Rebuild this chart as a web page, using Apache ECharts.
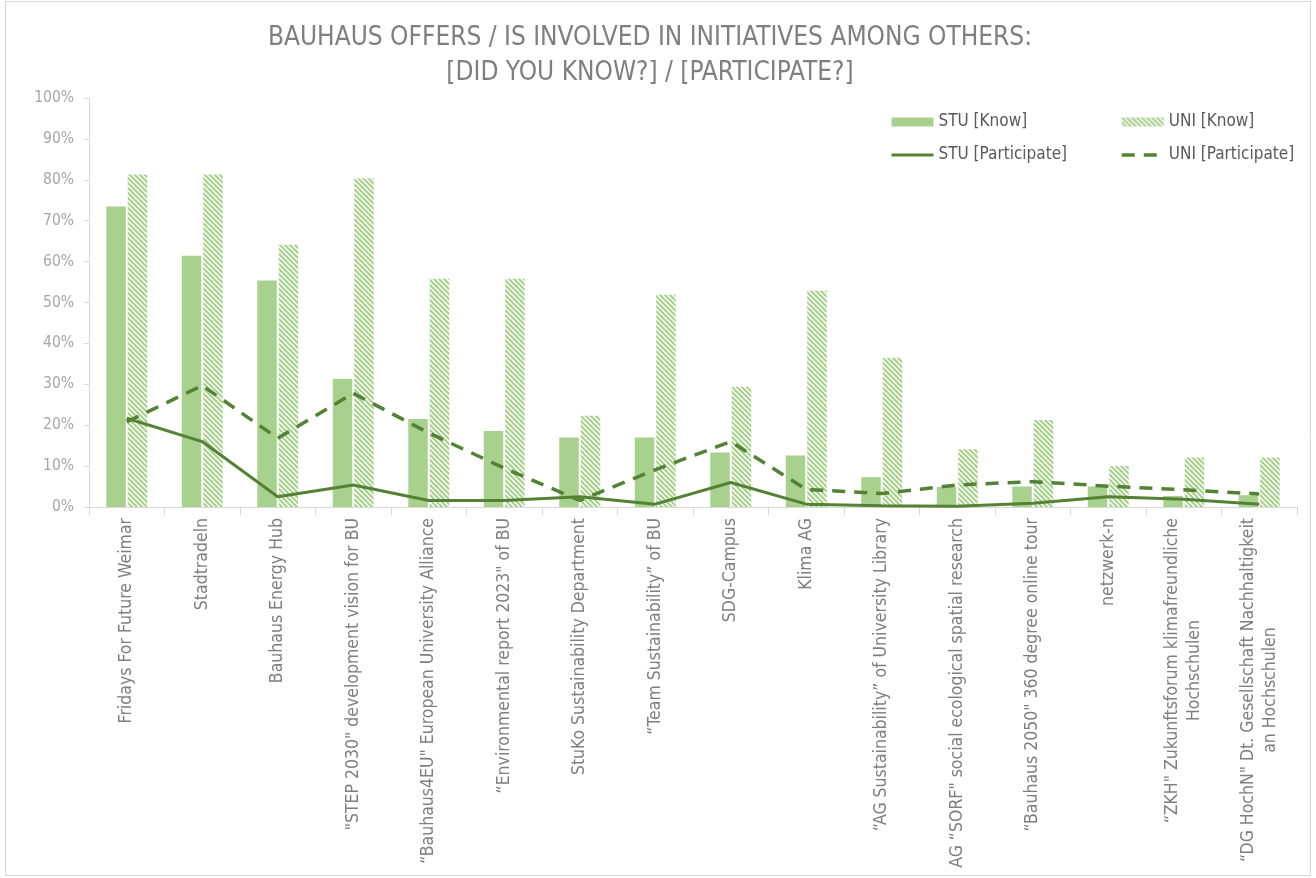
<!DOCTYPE html>
<html>
<head>
<meta charset="utf-8">
<script src="https://cdn.jsdelivr.net/npm/echarts@6/dist/echarts.min.js"></script>
<style>
html,body{margin:0;padding:0;background:#fff;}
#c{width:1316px;height:878px;}
</style>
</head>
<body>
<div id="c"></div>
<script>
const categories = [
  'Fridays For Future Weimar',
  'Stadtradeln',
  'Bauhaus Energy Hub',
  '"STEP 2030" development vision for BU',
  '\u201CBauhaus4EU" European University Alliance',
  '\u201CEnvironmental report 2023" of BU',
  'StuKo Sustainability Department',
  '\u201CTeam Sustainability\u201D of BU',
  'SDG-Campus',
  'Klima AG',
  '\u201CAG Sustainability\u201D of University Library',
  'AG \u201CSORF" social ecological spatial research',
  '\u201CBauhaus 2050" 360 degree online tour',
  'netzwerk-n',
  '\u201CZKH" Zukunftsforum klimafreundliche\nHochschulen',
  '\u201CDG HochN" Dt. Gesellschaft Nachhaltigkeit\nan Hochschulen'
];
const stuKnow = [73.5, 61.4, 55.4, 31.3, 21.5, 18.6, 17.0, 17.0, 13.3, 12.6, 7.3, 4.9, 5.0, 5.0, 2.7, 2.9];
const uniKnow = [81.3, 81.3, 64.1, 80.4, 55.8, 55.8, 22.3, 51.9, 29.4, 52.9, 36.5, 14.1, 21.3, 10.0, 12.1, 12.1];
const stuParticipate = [21.7, 16.0, 2.5, 5.4, 1.6, 1.6, 2.5, 0.7, 6.0, 0.7, 0.3, 0.2, 0.9, 2.5, 1.9, 0.7];
const uniParticipate = [20.8, 29.7, 16.8, 27.8, 18.1, 9.5, 1.6, 9.1, 16.0, 4.3, 3.3, 5.4, 6.2, 5.1, 4.2, 3.2];
const yTicks = [0, 10, 20, 30, 40, 50, 60, 70, 80, 90, 100];

const FONT = '"Liberation Sans Narrow", "DejaVu Sans Condensed", "Open Sans", sans-serif';
const LIGHT = '#a9d18e';
const DARK = '#548235';

function hatch() {
  const s = 5;
  const cv = document.createElement('canvas');
  cv.width = s; cv.height = s;
  const ctx = cv.getContext('2d');
  ctx.fillStyle = '#ffffff';
  ctx.fillRect(0, 0, s, s);
  ctx.strokeStyle = LIGHT;
  ctx.lineWidth = 2.2;
  for (let k = -1; k <= 1; k++) {
    ctx.beginPath();
    ctx.moveTo(k * s - 1, -1);
    ctx.lineTo(k * s + s + 1, s + 1);
    ctx.stroke();
  }
  return cv;
}
const pattern = { image: hatch(), repeat: 'repeat' };

const legendText = { fontFamily: FONT, fontSize: 17, color: '#595959', lineHeight: 18 };

const chart = echarts.init(document.getElementById('c'), null, { renderer: 'canvas' });
chart.setOption({
  backgroundColor: '#ffffff',
  animation: false,
  textStyle: { fontFamily: FONT },
  title: {
    text: 'BAUHAUS OFFERS / IS INVOLVED IN INITIATIVES AMONG OTHERS:\n[DID YOU KNOW?] / [PARTICIPATE?]',
    left: 645, top: 16, textAlign: 'center',
    textStyle: { fontFamily: FONT, fontSize: 26, fontWeight: 'normal', color: '#7f7f7f', lineHeight: 35 }
  },
  legend: [
    {
      data: [
        { name: 'STU [Know]', icon: 'rect' },
        { name: 'STU [Participate]', itemStyle: { opacity: 0 }, lineStyle: { width: 3, color: DARK } }
      ],
      orient: 'vertical', left: 885, top: 108, itemGap: 15,
      itemWidth: 42, itemHeight: 9,
      textStyle: legendText
    },
    {
      data: [
        { name: 'UNI [Know]', icon: 'rect' },
        { name: 'UNI [Participate]', itemStyle: { opacity: 0 }, lineStyle: { width: 3.5, color: DARK, type: [13, 9] } }
      ],
      orient: 'vertical', left: 1115, top: 108, itemGap: 15,
      itemWidth: 42, itemHeight: 9,
      textStyle: legendText
    }
  ],
  grid: { left: 89, right: 19, top: 98, bottom: 371, containLabel: false },
  xAxis: {
    type: 'category',
    data: categories,
    axisLine: { lineStyle: { color: '#d9d9d9', width: 1 } },
    axisTick: { show: true, length: 8, lineStyle: { color: '#d9d9d9' } },
    axisLabel: {
      interval: 0, rotate: 90, margin: 11, color: '#7f7f7f',
      fontFamily: FONT, fontSize: 17.5, lineHeight: 22,
      formatter: function (v) { return v.split('\n').map(function (l) { return '{a|' + l + '}'; }).join('\n'); },
      rich: { a: { align: 'center', fontFamily: FONT, fontSize: 17.5, color: '#7f7f7f', lineHeight: 22 } }
    }
  },
  yAxis: {
    type: 'value', min: 0, max: 100, interval: 10,
    axisLine: { show: true, lineStyle: { color: '#d9d9d9' } },
    axisTick: { show: true, length: 5, lineStyle: { color: '#d9d9d9' } },
    splitLine: { show: false },
    axisLabel: { color: '#a6a6a6', fontFamily: FONT, fontSize: 15.5, margin: 15, formatter: '{value}%' }
  },
  series: [
    { name: 'STU [Know]', type: 'bar', data: stuKnow, barWidth: 19.5, barGap: '10%', itemStyle: { color: LIGHT } },
    { name: 'UNI [Know]', type: 'bar', data: uniKnow, barWidth: 19.5, barGap: '10%', itemStyle: { color: pattern } },
    { name: 'STU [Participate]', type: 'line', data: stuParticipate, symbol: 'none', z: 5,
      lineStyle: { color: DARK, width: 3 }, itemStyle: { color: DARK } },
    { name: 'UNI [Participate]', type: 'line', data: uniParticipate, symbol: 'none', z: 5,
      lineStyle: { color: DARK, width: 3.5, type: [13, 9] }, itemStyle: { color: DARK } }
  ],
  graphic: [
    { type: 'rect', shape: { x: 5.5, y: 1.5, width: 1305, height: 874 }, style: { fill: null, stroke: '#d9d9d9', lineWidth: 1 }, silent: true, z: -1 }
  ]
});
</script>
</body>
</html>
